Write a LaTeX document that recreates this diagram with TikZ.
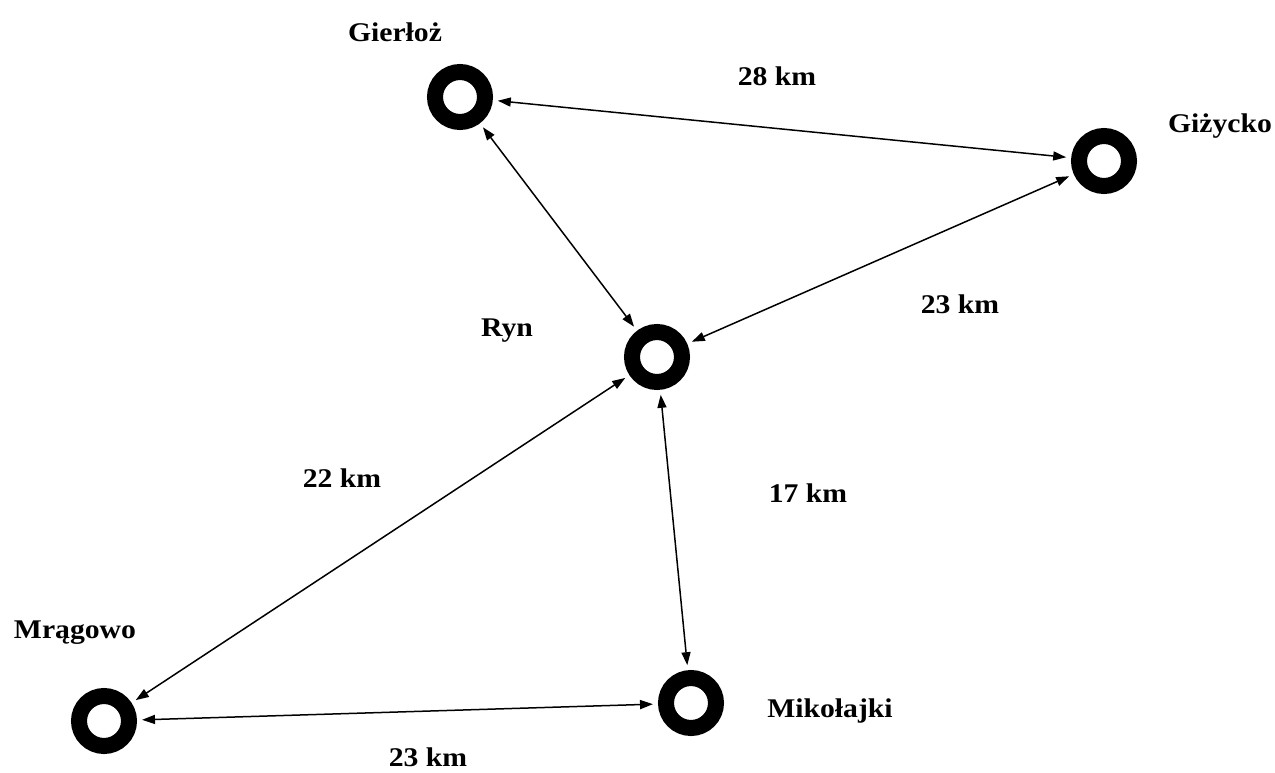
\documentclass[tikz,border=0pt]{standalone}
\usepackage{fontspec}
\setmainfont{Liberation Serif}
\newfontfamily\lblfont[FakeStretch=1.1]{Liberation Serif}
\usetikzlibrary{arrows.meta}
\begin{document}
\begin{tikzpicture}[x=1pt,y=-1pt,
  town/.style={circle,draw=black,line width=16pt,minimum size=50pt,inner sep=0pt,outer sep=13pt},
  lbl/.style={font=\lblfont\fontsize{27}{32}\selectfont\bfseries,inner sep=0pt},
  road/.style={line width=1.5pt,{Triangle[length=13pt,width=9pt]}-{Triangle[length=13pt,width=9pt]}}]
\useasboundingbox[fill=white] (0,0) rectangle (1275,772);
\node[town] (gie) at (460,97) {};
\node[town] (giz) at (1104,161) {};
\node[town] (ryn) at (657,357) {};
\node[town] (mra) at (104,721) {};
\node[town] (mik) at (691,703) {};
\node[lbl] (lgie) at (395,32) {Gierłoż};
\node[lbl] (lgiz) at (1220,126) {Giżycko};
\node[lbl] (lryn) at (507,331) {Ryn};
\node[lbl] (lmra) at (75,633) {Mrągowo};
\node[lbl] (lmik) at (830,711) {Mikołajki};
\node[lbl] (d1) at (777,76) {28 km};
\node[lbl] (d2) at (960,304) {23 km};
\node[lbl] (d3) at (342,478) {22 km};
\node[lbl] (d4) at (808,493) {17 km};
\node[lbl] (d5) at (428,757) {23 km};
\draw[road] (gie) -- (giz);
\draw[road] (gie) -- (ryn);
\draw[road] (giz) -- (ryn);
\draw[road] (ryn) -- (mra);
\draw[road] (ryn) -- (mik);
\draw[road] (mra) -- (mik);
\end{tikzpicture}
\end{document}
